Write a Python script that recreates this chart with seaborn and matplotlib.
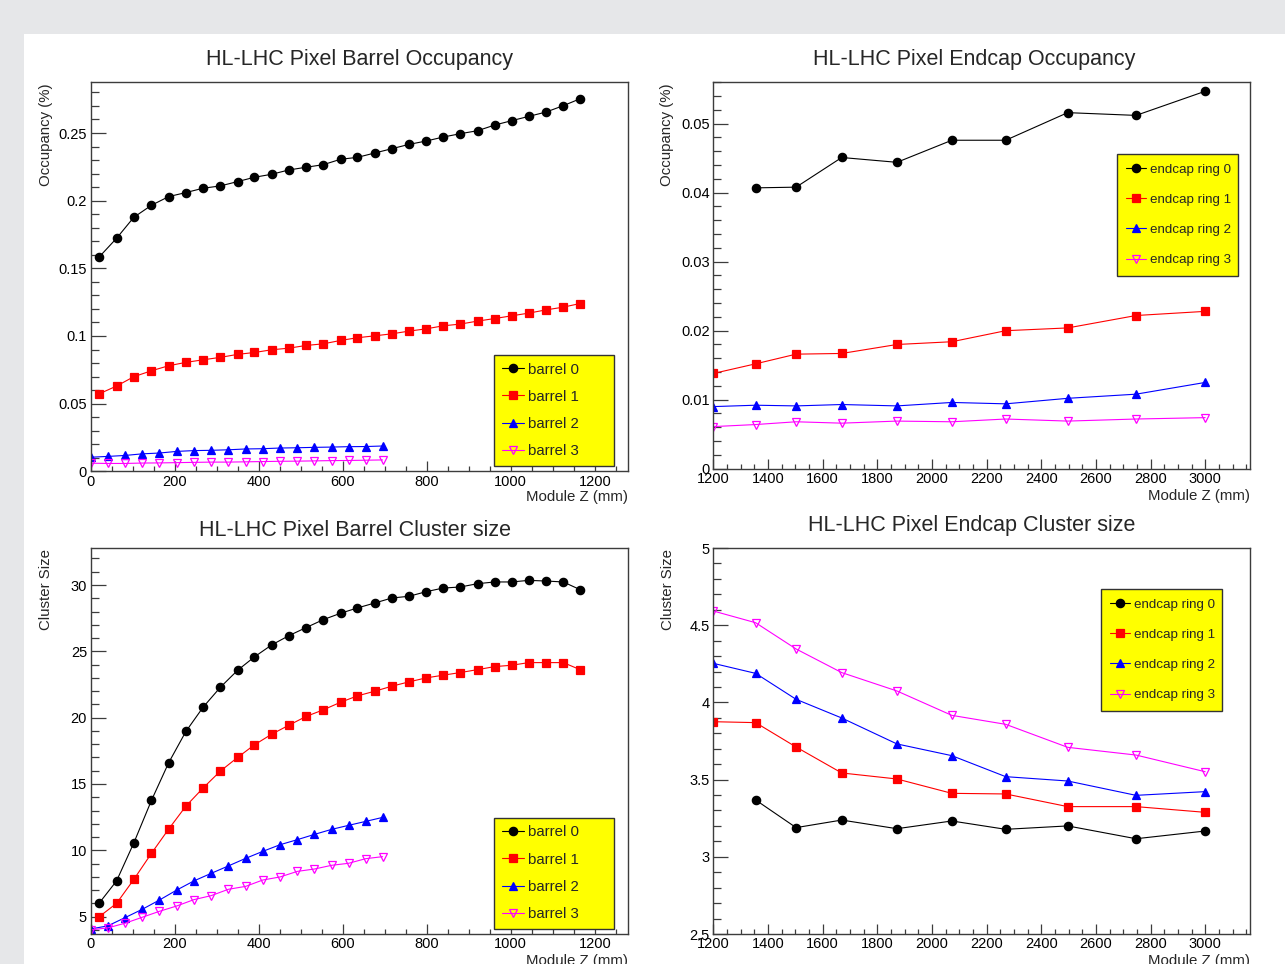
import matplotlib
matplotlib.use("Agg")
import matplotlib.pyplot as plt
import seaborn as sns
import pandas as pd
from matplotlib.patches import Rectangle
from matplotlib.ticker import MultipleLocator, FuncFormatter

# ---------------- data ----------------
barrel_z_long = [21, 62, 103, 145, 186, 227, 268, 309, 350, 390, 431, 472, 513, 554, 595,
                 635, 676, 717, 758, 799, 839, 880, 921, 962, 1002, 1043, 1084, 1125, 1165]
barrel_z_short = [0, 41, 82, 123, 164, 205, 246, 287, 328, 369, 410, 451, 492, 533, 574, 614, 655, 695]
endcap_z = [1200, 1355, 1503, 1670, 1872, 2073, 2270, 2497, 2747, 3000]
endcap_z_ring0 = [1355, 1503, 1670, 1872, 2073, 2270, 2497, 2747, 3000]

barrel_labels = ["barrel 0", "barrel 1", "barrel 2", "barrel 3"]
endcap_labels = ["endcap ring 0", "endcap ring 1", "endcap ring 2", "endcap ring 3"]

occ_barrel0 = [0.1585, 0.1722, 0.1877, 0.1966, 0.2030, 0.2060, 0.2092, 0.2109, 0.2141, 0.2173,
               0.2195, 0.2227, 0.2247, 0.2266, 0.2306, 0.2320, 0.2352, 0.2384, 0.2416, 0.2441,
               0.2470, 0.2495, 0.2517, 0.2559, 0.2591, 0.2623, 0.2655, 0.2702, 0.2753]
occ_barrel1 = [0.0573, 0.0630, 0.0699, 0.0743, 0.0780, 0.0805, 0.0824, 0.0842, 0.0864, 0.0878,
               0.0898, 0.0910, 0.0930, 0.0942, 0.0967, 0.0987, 0.1001, 0.1016, 0.1036, 0.1053,
               0.1075, 0.1088, 0.1110, 0.1129, 0.1149, 0.1169, 0.1193, 0.1213, 0.1240]
occ_barrel2 = [0.0104, 0.0110, 0.0117, 0.0129, 0.0135, 0.0147, 0.0153, 0.0155, 0.0159, 0.0165,
               0.0167, 0.0172, 0.0174, 0.0177, 0.0179, 0.0182, 0.0183, 0.0187]
occ_barrel3 = [0.0060, 0.0058, 0.0058, 0.0061, 0.0062, 0.0064, 0.0066, 0.0068, 0.0068, 0.0070,
               0.0072, 0.0074, 0.0075, 0.0077, 0.0079, 0.0080, 0.0082, 0.0084]

occ_ring0 = [0.0407, 0.0408, 0.0451, 0.0444, 0.0476, 0.0476, 0.0516, 0.0512, 0.0547]
occ_ring1 = [0.0138, 0.0152, 0.0166, 0.0167, 0.0180, 0.0184, 0.0200, 0.0204, 0.0222, 0.0228]
occ_ring2 = [0.0090, 0.0092, 0.0091, 0.0093, 0.0091, 0.0096, 0.0094, 0.0102, 0.0108, 0.0125]
occ_ring3 = [0.0061, 0.0064, 0.0068, 0.0066, 0.0069, 0.0068, 0.0072, 0.0069, 0.0072, 0.0074]

cs_barrel0 = [6.03, 7.69, 10.55, 13.76, 16.6, 18.96, 20.79, 22.29, 23.57, 24.58, 25.48, 26.18,
              26.79, 27.39, 27.87, 28.27, 28.64, 29.02, 29.15, 29.5, 29.77, 29.85, 30.1, 30.23,
              30.23, 30.35, 30.3, 30.23, 29.65]
cs_barrel1 = [5.0, 6.0, 7.8, 9.77, 11.6, 13.33, 14.7, 15.97, 17.0, 17.95, 18.75, 19.43, 20.09,
              20.59, 21.16, 21.64, 21.99, 22.37, 22.7, 23.0, 23.2, 23.4, 23.62, 23.85, 23.95,
              24.15, 24.15, 24.15, 23.62]
cs_barrel2 = [4.07, 4.3, 4.92, 5.55, 6.25, 7.0, 7.69, 8.26, 8.82, 9.39, 9.92, 10.42, 10.8, 11.2,
              11.58, 11.88, 12.18, 12.48]
cs_barrel3 = [4.0, 4.15, 4.5, 4.95, 5.4, 5.8, 6.28, 6.58, 7.06, 7.28, 7.76, 7.99, 8.41, 8.59,
              8.87, 9.02, 9.37, 9.52]

cs_ring0 = [3.368, 3.189, 3.238, 3.182, 3.232, 3.178, 3.200, 3.117, 3.167]
cs_ring1 = [3.875, 3.869, 3.711, 3.543, 3.504, 3.411, 3.407, 3.325, 3.325, 3.288]
cs_ring2 = [4.253, 4.188, 4.020, 3.899, 3.731, 3.655, 3.519, 3.491, 3.398, 3.422]
cs_ring3 = [4.592, 4.516, 4.346, 4.193, 4.074, 3.916, 3.858, 3.709, 3.659, 3.551]

# ---------------- style ----------------
sns.set_theme(style="white")
plt.rcParams["font.family"] = ["Liberation Sans", "DejaVu Sans"]

W, H = 1285, 964
fig = plt.figure(figsize=(W / 100, H / 100), dpi=100, facecolor="white")

GREY = "#e6e7e9"
fig.patches.append(Rectangle((0, 1 - 34 / H), 1, 34 / H, transform=fig.transFigure,
                             facecolor=GREY, edgecolor="none", zorder=0))
fig.patches.append(Rectangle((0, 0), 24 / W, 1, transform=fig.transFigure,
                             facecolor=GREY, edgecolor="none", zorder=0))

STY = [dict(color="#000000", marker="o", filled=True, ms=6.0),
       dict(color="#ff0000", marker="s", filled=True, ms=5.4),
       dict(color="#0000ff", marker="^", filled=True, ms=6.0),
       dict(color="#ff00ff", marker="v", filled=False, ms=6.0)]


def add_ax(l, t, r, b):
    return fig.add_axes([l / W, 1 - b / H, (r - l) / W, (b - t) / H])


def fmt(v, p):
    return f"{v:g}"


def draw(ax, xs_list, ys_list, labels):
    for xs, ys, lab, st in zip(xs_list, ys_list, labels, STY):
        df = pd.DataFrame({"z": xs, "v": ys})
        sns.lineplot(data=df, x="z", y="v", ax=ax, sort=False, errorbar=None,
                     color=st["color"], marker=st["marker"], markersize=st["ms"],
                     markeredgecolor=st["color"], markeredgewidth=0.9,
                     markerfacecolor=st["color"] if st["filled"] else "none",
                     linewidth=0.8, label=lab)


def style_ax(ax, xlim, ylim, xmaj, xmin, ymaj, ymin):
    ax.set_xlim(*xlim)
    ax.set_ylim(*ylim)
    ax.xaxis.set_major_locator(MultipleLocator(xmaj))
    ax.xaxis.set_minor_locator(MultipleLocator(xmin))
    ax.yaxis.set_major_locator(MultipleLocator(ymaj))
    ax.yaxis.set_minor_locator(MultipleLocator(ymin))
    ax.yaxis.set_major_formatter(FuncFormatter(fmt))
    ax.xaxis.set_major_formatter(FuncFormatter(fmt))
    ax.set_xlabel("")
    ax.set_ylabel("")
    for s in ax.spines.values():
        s.set_color("#3c3c3c")
        s.set_linewidth(1.0)
    ax.tick_params(axis="both", which="both", direction="in", colors="#3c3c3c",
                   labelcolor="black", labelsize=10.5, top=False, right=False,
                   left=True, bottom=True)
    ax.tick_params(axis="x", which="major", length=7.5, width=0.9, pad=2.5)
    ax.tick_params(axis="x", which="minor", length=3.8, width=0.9)
    ax.tick_params(axis="y", which="major", length=10.8, width=0.9, pad=2.5)
    ax.tick_params(axis="y", which="minor", length=5.8, width=0.9)
    ax.set_facecolor("white")


def legend(ax, box, fs, ls, bp, hl, htp):
    l, t, r, b = box
    leg = ax.legend(loc="upper left", bbox_to_anchor=(l / W, 1 - b / H, (r - l) / W, (b - t) / H),
                    bbox_transform=fig.transFigure, mode="expand", borderaxespad=0,
                    fontsize=fs, labelspacing=ls, borderpad=bp, handlelength=hl,
                    handletextpad=htp, numpoints=1, fancybox=False, shadow=False,
                    framealpha=1, facecolor="#ffff00", edgecolor="#333333")
    leg.get_frame().set_linewidth(1.0)


def texts(ax_box, title, title_xy, ylabel, ylab_xy, xlab_y):
    l, t, r, b = ax_box
    fig.text(title_xy[0] / W, 1 - title_xy[1] / H, title, ha="center", va="center", fontsize=15.5)
    fig.text(ylab_xy[0] / W, 1 - ylab_xy[1] / H, ylabel, rotation=90, ha="center", va="top",
             fontsize=10.8)
    fig.text(r / W, 1 - xlab_y / H, "Module Z (mm)", ha="right", va="center", fontsize=10.8)


# ---------------- panel 1: barrel occupancy ----------------
box1 = (90.5, 82, 628, 471.3)
ax1 = add_ax(*box1)
draw(ax1, [barrel_z_long, barrel_z_long, barrel_z_short, barrel_z_short],
     [occ_barrel0, occ_barrel1, occ_barrel2, occ_barrel3], barrel_labels)
style_ax(ax1, (0, 1279), (0, 0.2877), 200, 50, 0.05, 0.01)
legend(ax1, (494, 355, 614, 462), 10.8, 0.88, 0.5, 1.5, 0.3)
texts(box1, "HL-LHC Pixel Barrel Occupancy", (359, 60), "Occupancy (%)", (46, 83), 497)

# ---------------- panel 2: endcap occupancy ----------------
box2 = (713.3, 82, 1250, 468.7)
ax2 = add_ax(*box2)
draw(ax2, [endcap_z_ring0, endcap_z, endcap_z, endcap_z],
     [occ_ring0, occ_ring1, occ_ring2, occ_ring3], endcap_labels)
style_ax(ax2, (1200, 3164), (0, 0.05604), 200, 50, 0.01, 0.002)
legend(ax2, (1117, 154, 1238, 275), 9.6, 1.34, 0.7, 1.5, 0.25)
texts(box2, "HL-LHC Pixel Endcap Occupancy", (974, 60), "Occupancy (%)", (667, 83), 496)

# ---------------- panel 3: barrel cluster size ----------------
box3 = (90.5, 548, 628, 934)
ax3 = add_ax(*box3)
draw(ax3, [barrel_z_long, barrel_z_long, barrel_z_short, barrel_z_short],
     [cs_barrel0, cs_barrel1, cs_barrel2, cs_barrel3], barrel_labels)
style_ax(ax3, (0, 1279), (3.69, 32.79), 200, 50, 5, 1)
legend(ax3, (494, 818, 614, 925), 10.8, 0.88, 0.5, 1.5, 0.3)
texts(box3, "HL-LHC Pixel Barrel Cluster size", (355, 530), "Cluster Size", (46, 549), 961)

# ---------------- panel 4: endcap cluster size ----------------
box4 = (713.3, 548, 1250, 934)
ax4 = add_ax(*box4)
draw(ax4, [endcap_z_ring0, endcap_z, endcap_z, endcap_z],
     [cs_ring0, cs_ring1, cs_ring2, cs_ring3], endcap_labels)
style_ax(ax4, (1200, 3164), (2.5, 5.0), 200, 50, 0.5, 0.1)
legend(ax4, (1101, 589, 1222, 709), 9.6, 1.34, 0.7, 1.5, 0.25)
texts(box4, "HL-LHC Pixel Endcap Cluster size", (972, 525), "Cluster Size", (668, 549), 961)

fig.savefig("out.png", dpi=100, facecolor="white")
